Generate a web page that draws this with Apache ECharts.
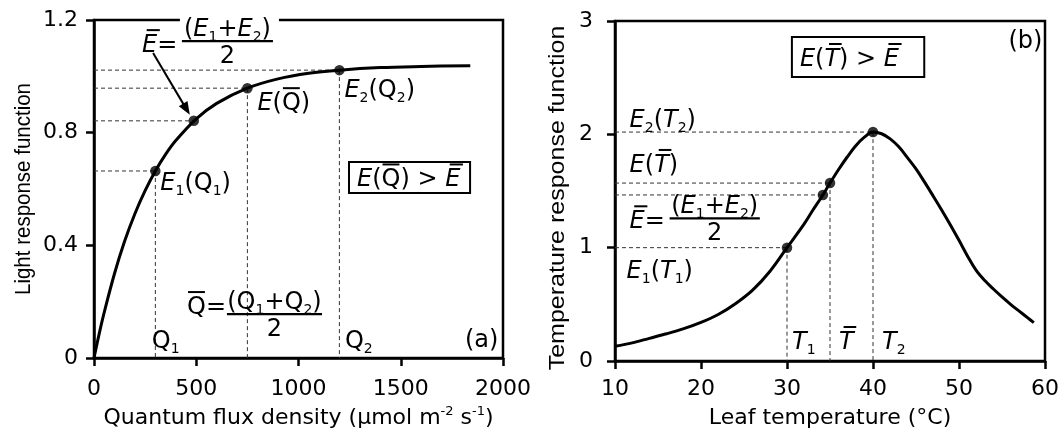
<!DOCTYPE html>
<html><head><meta charset="utf-8">
<script src="https://cdn.jsdelivr.net/npm/echarts@6/dist/echarts.min.js"></script>
<style>html,body{margin:0;padding:0;background:#fff}#c{width:1060px;height:430px}</style>
</head><body><div id="c"></div>
<script>
// ---------------- data ----------------
const lightTicksX = [0, 500, 1000, 1500, 2000];
const lightTicksY = [0, 0.4, 0.8, 1.2];
const tempTicksX = [10, 20, 30, 40, 50, 60];
const tempTicksY = [0, 1, 2, 3];

// light response curve (Q, E)
const lightQ = [0, 25, 50, 100, 150, 200, 250, 300, 350, 400, 500, 600, 750, 900, 1050, 1200, 1400, 1600, 1840];
const lightE = [0, 0.085, 0.162, 0.299, 0.415, 0.512, 0.594, 0.664, 0.723, 0.772, 0.849, 0.904, 0.958, 0.991, 1.011, 1.022, 1.031, 1.035, 1.038];
// marked points: E1(Q1), Ebar, E(Qbar), E2(Q2)
const lightPtQ = [300, 488, 750, 1200];
const lightPtE = [0.664, 0.842, 0.958, 1.022];
const lightPtVert = [true, false, true, true];

// temperature response curve (T, E)
const tempT = [10, 12, 14, 16, 18, 20, 22, 24, 26, 28, 30, 32, 33, 34, 35, 36, 37, 38, 39, 40, 41, 42, 43, 44, 45, 46, 47, 48, 49, 50, 51, 52, 53, 54, 55, 56, 57, 58, 58.7];
const tempE = [0.13, 0.16, 0.2, 0.24, 0.285, 0.34, 0.41, 0.505, 0.625, 0.79, 1.0, 1.21, 1.33, 1.445, 1.57, 1.69, 1.80, 1.90, 1.975, 2.02, 2.005, 1.96, 1.89, 1.795, 1.695, 1.578, 1.455, 1.33, 1.2, 1.065, 0.925, 0.80, 0.71, 0.635, 0.565, 0.50, 0.44, 0.38, 0.338];
// marked points: E1(T1), Ebar, E(Tbar), E2(T2)
const tempPtT = [30, 34.17, 35, 40];
const tempPtE = [1.0, 1.465, 1.57, 2.02];
const tempPtVert = [true, false, true, true];

// ---------------- styles ----------------
const TXT = 'DejaVu Sans';
const YT = 'Liberation Sans';
const SZ = 24;

function axisX(gi, ticks, name, margin, gap) {
  return {
    type: 'value', gridIndex: gi, min: ticks[0], max: ticks[ticks.length - 1], interval: ticks[1] - ticks[0],
    name: name, nameLocation: 'middle', nameGap: gap,
    nameTextStyle: { color: '#000', fontSize: 22, fontFamily: TXT,
      rich: { sup: { fontSize: 13, fontFamily: TXT, color: '#000', verticalAlign: 'top', lineHeight: 26 } } },
    axisLine: { show: true, onZero: false, lineStyle: { color: '#000', width: 2.5 } },
    axisTick: { show: true, inside: false, length: 8, lineStyle: { color: '#000', width: 2.5 } },
    axisLabel: { color: '#000', fontSize: 22, fontFamily: TXT, margin: margin, formatter: v => String(v) },
    splitLine: { show: false }
  };
}
function axisY(gi, ticks, margin) {
  return {
    type: 'value', gridIndex: gi, min: ticks[0], max: ticks[ticks.length - 1], interval: ticks[1] - ticks[0],
    axisLine: { show: true, onZero: false, lineStyle: { color: '#000', width: 2.5 } },
    axisTick: { show: true, inside: false, length: 8, lineStyle: { color: '#000', width: 2.5 } },
    axisLabel: { color: '#000', fontSize: 22, fontFamily: TXT, margin: margin, formatter: v => String(v) },
    splitLine: { show: false }
  };
}

const dash = { color: '#333', width: 1, type: [4, 3] };
const series = [];
function addPanel(gi, xs, ys, px, py, pv, xmin) {
  for (let i = 0; i < px.length; i++) {
    series.push({ type: 'line', xAxisIndex: gi, yAxisIndex: gi, symbol: 'none', silent: true, z: 1,
      lineStyle: dash, data: [[xmin, py[i]], [px[i], py[i]]] });
    if (pv[i]) series.push({ type: 'line', xAxisIndex: gi, yAxisIndex: gi, symbol: 'none', silent: true, z: 1,
      lineStyle: dash, data: [[px[i], py[i]], [px[i], 0]] });
  }
  series.push({ type: 'line', xAxisIndex: gi, yAxisIndex: gi, smooth: 0.35, showSymbol: false, symbol: 'none', z: 3,
    lineStyle: { color: '#000', width: 3 }, data: xs.map((x, i) => [x, ys[i]]) });
  series.push({ type: 'scatter', xAxisIndex: gi, yAxisIndex: gi, symbolSize: 10.5, z: 4,
    itemStyle: { color: '#000' }, data: px.map((x, i) => [x, py[i]]) });
}
addPanel(0, lightQ, lightE, lightPtQ, lightPtE, lightPtVert, lightTicksX[0]);
addPanel(1, tempT, tempE, tempPtT, tempPtE, tempPtVert, tempTicksX[0]);

const chart = echarts.init(document.getElementById('c'), null, { renderer: 'canvas' });
chart.setOption({
  animation: false,
  backgroundColor: '#fff',
  grid: [
    { left: 94, top: 20, width: 409, height: 338, show: true, borderColor: '#000', borderWidth: 2.5, containLabel: false, outerBoundsMode: 'none' },
    { left: 615, top: 21, width: 430, height: 340, show: true, borderColor: '#000', borderWidth: 2.5, containLabel: false, outerBoundsMode: 'none' }
  ],
  xAxis: [
    axisX(0, lightTicksX, 'Quantum flux density (μmol m{sup|-2} s{sup|-1})', 20, 41),
    axisX(1, tempTicksX, 'Leaf temperature (°C)', 17, 46)
  ],
  yAxis: [ axisY(0, lightTicksY, 16), axisY(1, tempTicksY, 22) ],
  series: series
});

// ---------------- annotations (math-like labels) ----------------
const mctx = document.createElement('canvas').getContext('2d');
function fnt(s, it) { return (it ? 'italic' : 'normal') + ' normal ' + s + 'px ' + TXT; }
function measure(t, s, it) { mctx.font = fnt(s, it); mctx.textBaseline = 'alphabetic'; return mctx.measureText(t).width; }
function capH(s, it) { mctx.font = fnt(s, it); mctx.textBaseline = 'alphabetic'; return mctx.measureText('H').actualBoundingBoxAscent; }
function midOff(s, it) { mctx.font = fnt(s, it); mctx.textBaseline = 'middle'; return mctx.measureText('H').actualBoundingBoxDescent; }
function toPx(gi, v) { return chart.convertToPixel({ gridIndex: gi }, v); }

function runs(markup) {
  const out = []; let bar = false, sub = false;
  for (const ch of markup) {
    if (ch === '~') { bar = true; continue; }
    if (ch === '_') { sub = true; continue; }
    out.push({ ch, bar, sub, it: 'ET'.includes(ch) });
    bar = false; sub = false;
  }
  return out;
}
function layout(markup, size) {
  let x = 0; const items = [];
  for (const r of runs(markup)) {
    const s = r.sub ? Math.round(size * 0.58) : size;
    const w = measure(r.ch, s, r.it);
    items.push(Object.assign({}, r, { s, x, w }));
    x += w;
  }
  return { items, width: x };
}
const G = [];
function emit(markup, size, x0, base) {
  const L = layout(markup, size);
  for (const it of L.items) {
    const b = base + (it.sub ? size * 0.2 : 0);
    G.push({ type: 'text', x: x0 + it.x, y: b - midOff(it.s, it.it), z: 100, silent: true,
      style: { text: it.ch, fontSize: it.s, fontFamily: TXT, fontStyle: it.it ? 'italic' : 'normal',
        fill: '#000', align: 'left', verticalAlign: 'middle' } });
    if (it.bar) {
      const ch = capH(it.s, it.it), sl = it.it ? 0.2 * ch : 0, y = b - ch - 4;
      G.push({ type: 'line', z: 100, silent: true, shape: { x1: x0 + it.x + 1 + sl, y1: y, x2: x0 + it.x + it.w - 1 + sl, y2: y },
        style: { stroke: '#000', lineWidth: 2 } });
    }
  }
  return L.width;
}
function label(gi, at, off, markup, size) {
  const p = toPx(gi, at);
  emit(markup, size || SZ, p[0] + off[0], p[1] + off[1]);
}
function frac(gi, spec) {
  const a = toPx(gi, [spec.line[0], spec.line[2]]), b = toPx(gi, [spec.line[1], spec.line[2]]);
  const y = a[1];
  const numW = layout(spec.num, SZ).width, denW = layout(spec.den, SZ).width;
  const cx = (a[0] + b[0]) / 2;
  if (spec.bg) G.push({ type: 'rect', z: 99, silent: true, shape: { x: a[0] - 2, y: y - 30, width: b[0] - a[0] + 8, height: 28 }, style: { fill: '#fff' } });
  G.push({ type: 'line', z: 100, silent: true, shape: { x1: a[0], y1: y, x2: b[0], y2: y }, style: { stroke: '#000', lineWidth: 2.2 } });
  emit(spec.num, SZ, cx - numW / 2, y + spec.numBase);
  emit(spec.den, SZ, cx - denW / 2, y + spec.denBase);
  const lp = toPx(gi, [spec.leftX, spec.line[2]]);
  emit(spec.left, SZ, lp[0], y + spec.leftBase);
}
function box(gi, tl, br, markup, size) {
  const p1 = toPx(gi, tl), p2 = toPx(gi, br);
  G.push({ type: 'rect', z: 98, silent: true, shape: { x: p1[0], y: p1[1], width: p2[0] - p1[0], height: p2[1] - p1[1] },
    style: { fill: '#fff', stroke: '#000', lineWidth: 2 } });
  const ch = capH(size, false);
  emit(markup, size, p1[0] + 8, (p1[1] + p2[1]) / 2 + ch / 2);
}
function arrow(gi, from, to, toOff) {
  const s = toPx(gi, from), t0 = toPx(gi, to), t = [t0[0] + toOff[0], t0[1] + toOff[1]];
  const dx = t[0] - s[0], dy = t[1] - s[1], len = Math.hypot(dx, dy), ux = dx / len, uy = dy / len;
  const HL = 13, HW = 5;
  const bx = t[0] - ux * HL, by = t[1] - uy * HL;
  G.push({ type: 'line', z: 100, silent: true, shape: { x1: s[0], y1: s[1], x2: bx + ux * 2, y2: by + uy * 2 }, style: { stroke: '#000', lineWidth: 2 } });
  G.push({ type: 'polygon', z: 100, silent: true, shape: { points: [[t[0], t[1]], [bx - uy * HW, by + ux * HW], [bx + uy * HW, by - ux * HW]] }, style: { fill: '#000' } });
}
// rotated y-axis titles, placed at the vertical centre of their grid
function yTitle(gi, text, dxFromAxis, size, thick, dy) {
  const xs = gi === 0 ? lightTicksX : tempTicksX, ys = gi === 0 ? lightTicksY : tempTicksY;
  const p0 = toPx(gi, [xs[0], ys[0]]), p1 = toPx(gi, [xs[0], ys[ys.length - 1]]);
  G.push({ type: 'text', x: p0[0] - dxFromAxis, y: (p0[1] + p1[1]) / 2 + dy, rotation: Math.PI / 2, scaleY: thick, silent: true, z: 100,
    style: { text: text, fontSize: size, fontFamily: YT, fill: '#000', align: 'center', verticalAlign: 'middle' } });
}

// left panel (a)
label(0, [lightPtQ[0], lightPtE[0]], [5, 19], 'E_1(Q_1)');
label(0, [lightPtQ[2], lightPtE[2]], [10, 22], 'E(~Q)');
label(0, [lightPtQ[3], lightPtE[3]], [5, 27], 'E_2(Q_2)');
label(0, [lightPtQ[0], 0], [-3.5, -10], 'Q_1');
label(0, [lightPtQ[3], 0], [5.5, -10], 'Q_2');
label(0, [1814, 0], [0, -11], '(a)');
box(0, [1247, 0.696], [1839, 0.586], 'E(~Q) > ~E', SZ);
frac(0, { left: '~E=', leftX: 235, line: [430, 875, 1.125], leftBase: 11, num: '(E_1+E_2)', numBase: -5, den: '2', denBase: 22, bg: true });
frac(0, { left: '~Q=', leftX: 455, line: [650, 1115, 0.156], leftBase: 0, num: '(Q_1+Q_2)', numBase: -5, den: '2', denBase: 22 });
arrow(0, [289, 1.083], [lightPtQ[1], lightPtE[1]], [-4, -6]);
yTitle(0, 'Light response function', 70, 20.5, 1.12, 0);

// right panel (b)
label(1, [11.7, 2.065], [0, 0], 'E_2(T_2)');
label(1, [11.7, 1.668], [0, 0], 'E(~T)');
label(1, [11.35, 0.732], [0, 0], 'E_1(T_1)');
label(1, [tempPtT[0], 0], [5, -12], 'T_1');
label(1, [tempPtT[2], 0], [9, -12], '~T');
label(1, [tempPtT[3], 0], [9, -12], 'T_2');
label(1, [55.75, 2.76], [0, 0], '(b)');
box(1, [30.57, 2.859], [45.96, 2.506], 'E(~T) > ~E', SZ);
frac(1, { left: '~E=', leftX: 11.7, line: [16.35, 26.84, 1.259], leftBase: 10, num: '(E_1+E_2)', numBase: -5, den: '2', denBase: 22 });
yTitle(1, 'Temperature response function', 57, 25, 0.85, 7);

chart.setOption({ graphic: G });
</script></body></html>
